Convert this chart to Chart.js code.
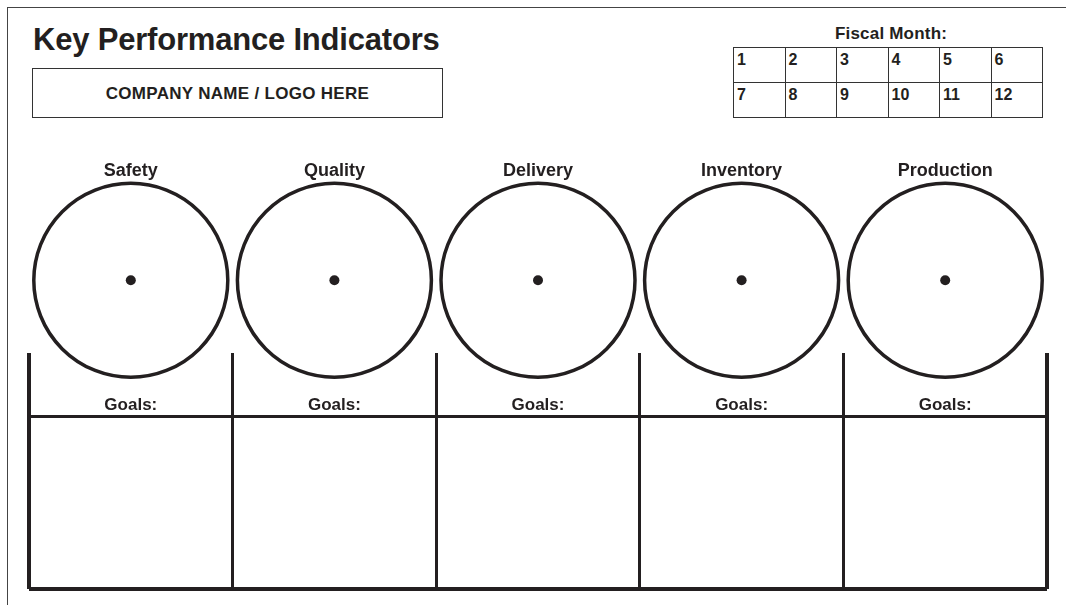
<!DOCTYPE html>
<html>
<head>
<meta charset="utf-8">
<title>Key Performance Indicators</title>
<script src="https://cdn.jsdelivr.net/npm/chart.js@4.4.1/dist/chart.umd.min.js"></script>
<style>
  html, body { margin: 0; padding: 0; background: #fff; }
  body {
    width: 1066px; height: 605px; position: relative; overflow: hidden;
    font-family: "Liberation Sans", Arial, sans-serif; font-weight: bold; color: #231f20;
  }
  #frame {
    position: absolute; left: 7px; top: 7px; width: 1100px; height: 700px;
    border-top: 1px solid #444; border-left: 1px solid #444;
  }
  #title {
    position: absolute; left: 33px; top: 24px; white-space: nowrap;
    font-size: 31px; line-height: 31px; letter-spacing: -0.2px;
  }
  #company {
    position: absolute; left: 32px; top: 68px; width: 411px; height: 50px;
    box-sizing: border-box; border: 1.5px solid #333;
  }
  #company span {
    position: absolute; left: 0; right: 0; top: 16px; text-align: center;
    font-size: 17px; line-height: 17px; letter-spacing: 0.3px; white-space: nowrap;
  }
  #fiscalTitle {
    position: absolute; left: 791px; width: 200px; top: 25px; text-align: center;
    font-size: 17px; line-height: 17px; letter-spacing: 0.2px;
  }
  #months {
    position: absolute; left: 733px; top: 47px;
    display: grid; grid-template-columns: repeat(6, 51.5px); grid-template-rows: 35px 35px;
    border-top: 1.5px solid #333; border-left: 1.5px solid #333;
  }
  #months div {
    box-sizing: border-box; border-right: 1.5px solid #333; border-bottom: 1.5px solid #333;
    font-size: 16px; line-height: 16px; padding: 3.5px 0 0 3px;
  }
  .chartBox { position: absolute; left: 0; top: 0; width: 1066px; height: 605px; }
</style>
</head>
<body>
<div id="frame"></div>
<div id="title">Key Performance Indicators</div>
<div id="company"><span>COMPANY NAME / LOGO HERE</span></div>
<div id="fiscalTitle">Fiscal Month:</div>
<div id="months"></div>
<div class="chartBox"><canvas id="dialChart"></canvas></div>
<div class="chartBox"><canvas id="goalsChart"></canvas></div>

<script>
var kpiNames = ['Safety', 'Quality', 'Delivery', 'Inventory', 'Production'];
var dialReadings = [0, 0, 0, 0, 0];   // blank template: every dial at rest
var goalLabel = 'Goals:';
var fiscalMonths = [1, 2, 3, 4, 5, 6, 7, 8, 9, 10, 11, 12];

// goals table y runs as a share of its height (0 = bottom rule)
var tableRules = [0, 73];
var goalsRow = 78;

var ink = '#231f20';
var fontFamily = '"Liberation Sans", Arial, sans-serif';

var monthsBox = document.getElementById('months');
fiscalMonths.forEach(function (m) {
    var cell = document.createElement('div');
    cell.textContent = m;
    monthsBox.appendChild(cell);
});

// ---- dials: one ring + pivot per KPI, names on the top axis
var dialCtx = document.getElementById('dialChart').getContext('2d');

var dialChart = new Chart(dialCtx, {
    type: 'line',
    data: {
        labels: kpiNames,
        datasets: [
            {
                label: 'Dial',
                data: dialReadings,
                showLine: false,
                pointStyle: 'circle',
                pointRadius: 97,
                pointBorderWidth: 3.5,
                pointBorderColor: ink,
                pointBackgroundColor: 'rgba(0,0,0,0)',
                clip: false
            },
            {
                label: 'Pivot',
                data: dialReadings,
                showLine: false,
                pointStyle: 'circle',
                pointRadius: 5,
                pointBorderWidth: 0,
                pointBackgroundColor: ink,
                clip: false
            }
        ]
    },
    options: {
        responsive: true,
        maintainAspectRatio: false,
        animation: false,
        events: [],
        layout: {
            autoPadding: false,
            padding: { left: 29, right: 19, top: 160, bottom: 226 }
        },
        plugins: {
            legend: { display: false },
            tooltip: { enabled: false }
        },
        scales: {
            x: {
                type: 'category',
                position: 'top',
                offset: true,
                grid: { display: false, drawTicks: false },
                border: { display: false },
                ticks: {
                    padding: 0,
                    color: ink,
                    maxRotation: 0,
                    minRotation: 0,
                    font: { family: fontFamily, size: 18, weight: 'bold' }
                }
            },
            y: {
                display: false,
                min: -1,
                max: 1
            }
        }
    }
});

// ---- goals table: column walls from the x grid, rules from the y grid
var goalsText = {
    id: 'goalsText',
    afterDatasetsDraw: function (chart) {
        var ctx = chart.ctx;
        var x = chart.scales.x;
        var y = chart.scales.y;
        ctx.save();
        ctx.fillStyle = ink;
        ctx.textAlign = 'center';
        ctx.textBaseline = 'middle';
        ctx.font = 'bold 17px ' + fontFamily;
        kpiNames.forEach(function (name, i) {
            ctx.fillText(goalLabel, x.getPixelForValue(i), y.getPixelForValue(goalsRow));
        });
        ctx.restore();
    }
};

var goalsCtx = document.getElementById('goalsChart').getContext('2d');

var goalsChart = new Chart(goalsCtx, {
    type: 'bar',
    data: {
        labels: kpiNames,
        datasets: []
    },
    options: {
        responsive: true,
        maintainAspectRatio: false,
        animation: false,
        events: [],
        layout: {
            autoPadding: false,
            padding: { left: 29, right: 19, top: 353, bottom: 16 }
        },
        plugins: {
            legend: { display: false },
            tooltip: { enabled: false }
        },
        scales: {
            x: {
                type: 'category',
                position: 'bottom',
                offset: true,
                ticks: { display: false },
                grid: {
                    display: true,
                    offset: true,
                    drawTicks: false,
                    color: ink,
                    // outer walls of the table are heavier
                    lineWidth: function (c) {
                        return (c.type !== 'tick' || c.index === 0) ? 4 : 3;
                    }
                },
                border: { display: false }
            },
            y: {
                min: 0,
                max: 100,
                ticks: { display: false },
                afterBuildTicks: function (scale) {
                    scale.ticks = tableRules.map(function (v) { return { value: v }; });
                },
                grid: {
                    display: true,
                    drawTicks: false,
                    color: ink,
                    lineWidth: function (c) {
                        return (c.tick && c.tick.value === 0) ? 4 : 3;
                    }
                },
                border: { display: false }
            }
        }
    },
    plugins: [goalsText]
});
</script>
</body>
</html>
